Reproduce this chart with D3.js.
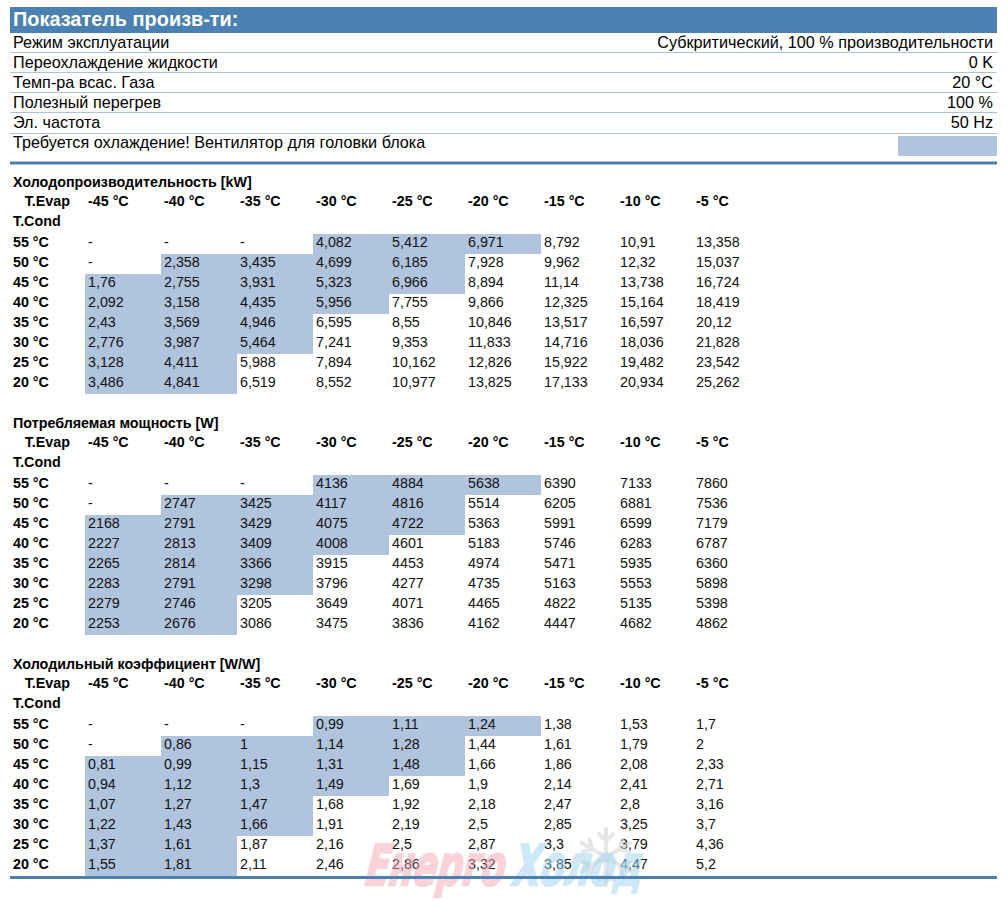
<!DOCTYPE html>
<html>
<head>
<meta charset="utf-8">
<script src="https://cdn.jsdelivr.net/npm/d3@7"></script>
<style>
  body { margin: 0; background: #fff; }
  svg { display: block; font-family: "Liberation Sans", Arial, sans-serif; }
</style>
</head>
<body>
<div id="chart"></div>
<script>
// --- data ---
var headerTitle = "Показатель произв-ти:";
var infoLabels = ["Режим эксплуатации", "Переохлаждение жидкости", "Темп-ра всас. Газа", "Полезный перегрев", "Эл. частота"];
var infoValues = ["Субкритический, 100 % производительности", "0 K", "20 °C", "100 %", "50 Hz"];
var coolingNote = "Требуется охлаждение! Вентилятор для головки блока";

var evapTemps = ["-45 °C", "-40 °C", "-35 °C", "-30 °C", "-25 °C", "-20 °C", "-15 °C", "-10 °C", "-5 °C"];
var condTemps = ["55 °C", "50 °C", "45 °C", "40 °C", "35 °C", "30 °C", "25 °C", "20 °C"];

// shaded evap range per condensing row (first, last column index)
var shadedRange = [[3, 5], [1, 4], [0, 4], [0, 3], [0, 2], [0, 2], [0, 1], [0, 1]];

var capacity = [
  [null, null, null, 4.082, 5.412, 6.971, 8.792, 10.91, 13.358],
  [null, 2.358, 3.435, 4.699, 6.185, 7.928, 9.962, 12.32, 15.037],
  [1.76, 2.755, 3.931, 5.323, 6.966, 8.894, 11.14, 13.738, 16.724],
  [2.092, 3.158, 4.435, 5.956, 7.755, 9.866, 12.325, 15.164, 18.419],
  [2.43, 3.569, 4.946, 6.595, 8.55, 10.846, 13.517, 16.597, 20.12],
  [2.776, 3.987, 5.464, 7.241, 9.353, 11.833, 14.716, 18.036, 21.828],
  [3.128, 4.411, 5.988, 7.894, 10.162, 12.826, 15.922, 19.482, 23.542],
  [3.486, 4.841, 6.519, 8.552, 10.977, 13.825, 17.133, 20.934, 25.262]
];
var power = [
  [null, null, null, 4136, 4884, 5638, 6390, 7133, 7860],
  [null, 2747, 3425, 4117, 4816, 5514, 6205, 6881, 7536],
  [2168, 2791, 3429, 4075, 4722, 5363, 5991, 6599, 7179],
  [2227, 2813, 3409, 4008, 4601, 5183, 5746, 6283, 6787],
  [2265, 2814, 3366, 3915, 4453, 4974, 5471, 5935, 6360],
  [2283, 2791, 3298, 3796, 4277, 4735, 5163, 5553, 5898],
  [2279, 2746, 3205, 3649, 4071, 4465, 4822, 5135, 5398],
  [2253, 2676, 3086, 3475, 3836, 4162, 4447, 4682, 4862]
];
var cop = [
  [null, null, null, 0.99, 1.11, 1.24, 1.38, 1.53, 1.7],
  [null, 0.86, 1, 1.14, 1.28, 1.44, 1.61, 1.79, 2],
  [0.81, 0.99, 1.15, 1.31, 1.48, 1.66, 1.86, 2.08, 2.33],
  [0.94, 1.12, 1.3, 1.49, 1.69, 1.9, 2.14, 2.41, 2.71],
  [1.07, 1.27, 1.47, 1.68, 1.92, 2.18, 2.47, 2.8, 3.16],
  [1.22, 1.43, 1.66, 1.91, 2.19, 2.5, 2.85, 3.25, 3.7],
  [1.37, 1.61, 1.87, 2.16, 2.5, 2.87, 3.3, 3.79, 4.36],
  [1.55, 1.81, 2.11, 2.46, 2.86, 3.32, 3.85, 4.47, 5.2]
];
var tableTitles = ["Холодопроизводительность [kW]", "Потребляемая мощность [W]", "Холодильный коэффициент [W/W]"];
var tableValues = [capacity, power, cop];

// --- layout ---
var width = 1008, height = 901;
var left = 10, right = 997;
var steel = "#4a80b2", shade = "#b0c4de", sepColor = "#aec2da";
var infoFont = "16.2px", cellFont = "14.3px";

var svg = d3.select("#chart").append("svg")
  .attr("width", width)
  .attr("height", height);

/* Header */
svg.append("rect")
  .attr("x", left).attr("y", 7)
  .attr("width", right - left).attr("height", 26)
  .attr("fill", steel);
svg.append("text")
  .attr("x", 13).attr("y", 26)
  .attr("fill", "#fff")
  .style("font-size", "19.9px").style("font-weight", "bold")
  .text(headerTitle);

/* Info rows */
var yInfo = d3.scaleBand()
  .domain(d3.range(infoLabels.length))
  .range([33, 133.5]);

var info = svg.append("g").attr("class", "info");
info.selectAll("line.sep")
  .data(d3.range(infoLabels.length)).enter()
  .append("line")
  .attr("x1", left).attr("x2", right)
  .attr("y1", i => Math.round(yInfo(i) + yInfo.bandwidth()) - 0.5)
  .attr("y2", i => Math.round(yInfo(i) + yInfo.bandwidth()) - 0.5)
  .attr("stroke", sepColor).attr("stroke-width", 1);
info.selectAll("text.lbl")
  .data(infoLabels).enter()
  .append("text")
  .attr("x", 13)
  .attr("y", (d, i) => yInfo(i) + 14.5)
  .style("font-size", infoFont)
  .text(d => d);
info.selectAll("text.val")
  .data(infoValues).enter()
  .append("text")
  .attr("x", 993)
  .attr("y", (d, i) => yInfo(i) + 14.5)
  .attr("text-anchor", "end")
  .style("font-size", infoFont)
  .text(d => d);

info.append("text")
  .attr("x", 13).attr("y", 148)
  .style("font-size", infoFont)
  .text(coolingNote);
info.append("rect")
  .attr("x", 898).attr("y", 136)
  .attr("width", right - 898).attr("height", 20)
  .attr("fill", shade);
svg.append("rect")
  .attr("x", left).attr("y", 161.5)
  .attr("width", right - left).attr("height", 3)
  .attr("fill", steel);

/* Tables */
var xScale = d3.scaleBand()
  .domain(evapTemps)
  .range([85, 85 + 76 * evapTemps.length]);

var yScale = d3.scaleBand()
  .domain(condTemps)
  .range([0, 20 * condTemps.length]);

var tableTop = d3.scaleLinear().domain([0, 2]).range([234, 716]);

function fmt(v) {
  return v === null ? "-" : String(v).replace(".", ",");
}

var cells = [];
tableValues.forEach(function(tbl, t) {
  tbl.forEach(function(row, r) {
    row.forEach(function(v, c) {
      cells.push({ t: t, cond: condTemps[r], evap: evapTemps[c], value: v,
        shaded: c >= shadedRange[r][0] && c <= shadedRange[r][1] });
    });
  });
});

var tables = svg.selectAll("g.table")
  .data(tableTitles).enter()
  .append("g")
  .attr("class", "table")
  .attr("transform", (d, i) => `translate(0, ${tableTop(i)})`);

tables.append("text")
  .attr("x", 13).attr("y", -47.5)
  .style("font-size", cellFont).style("font-weight", "bold")
  .text(d => d);
tables.append("text")
  .attr("x", 70).attr("y", -28)
  .attr("text-anchor", "end")
  .style("font-size", cellFont).style("font-weight", "bold")
  .text("T.Evap");
tables.append("text")
  .attr("x", 13).attr("y", -8)
  .style("font-size", cellFont).style("font-weight", "bold")
  .text("T.Cond");
tables.selectAll("text.evap")
  .data(evapTemps).enter()
  .append("text")
  .attr("x", d => xScale(d) + 3).attr("y", -28)
  .style("font-size", cellFont).style("font-weight", "bold")
  .text(d => d);
tables.selectAll("text.cond")
  .data(condTemps).enter()
  .append("text")
  .attr("x", 13).attr("y", d => yScale(d) + 13)
  .style("font-size", cellFont).style("font-weight", "bold")
  .text(d => d);

tables.selectAll("rect.cell")
  .data((d, i) => cells.filter(c => c.t === i && c.shaded)).enter()
  .append("rect")
  .attr("x", d => xScale(d.evap))
  .attr("y", d => yScale(d.cond))
  .attr("width", xScale.bandwidth())
  .attr("height", yScale.bandwidth())
  .attr("fill", shade);

/* watermark */
var wm = svg.append("g")
  .attr("transform", "translate(0, 885)")
  .style("font-family", "'DejaVu Sans', sans-serif")
  .style("font-weight", "bold");

// faint snowflake behind the logo
var flake = wm.append("g")
  .attr("transform", "translate(606, -28)")
  .attr("stroke", "#d6d6d6").attr("stroke-width", 4)
  .attr("stroke-linecap", "round").attr("opacity", 0.6);
[0, 60, 120].forEach(function(a) {
  var g = flake.append("g").attr("transform", `rotate(${a})`);
  g.append("line").attr("x1", 0).attr("y1", -28).attr("x2", 0).attr("y2", 28);
  [-1, 1].forEach(function(s) {
    g.append("line").attr("x1", 0).attr("y1", s * 16).attr("x2", -7).attr("y2", s * 23);
    g.append("line").attr("x1", 0).attr("y1", s * 16).attr("x2", 7).attr("y2", s * 23);
  });
});

wm.append("text")
  .attr("transform", "skewX(-14)")
  .attr("x", 362).attr("y", 0)
  .attr("textLength", 140).attr("lengthAdjust", "spacingAndGlyphs")
  .attr("fill", "#f4a9b4").attr("stroke", "#f4a9b4").attr("stroke-width", 2.5)
  .attr("opacity", 0.5)
  .style("font-size", "56px")
  .text("Енерго");
wm.append("text")
  .attr("transform", "skewX(-14)")
  .attr("x", 510).attr("y", 0)
  .attr("textLength", 130).attr("lengthAdjust", "spacingAndGlyphs")
  .attr("fill", "#9dd5f3").attr("stroke", "#9dd5f3").attr("stroke-width", 2.5)
  .attr("opacity", 0.5)
  .style("font-size", "56px")
  .text("Холод");

tables.selectAll("text.val")
  .data((d, i) => cells.filter(c => c.t === i)).enter()
  .append("text")
  .attr("x", d => xScale(d.evap) + 3)
  .attr("y", d => yScale(d.cond) + 13)
  .attr("fill", "#111")
  .style("font-size", cellFont)
  .text(d => fmt(d.value));

svg.append("rect")
  .attr("x", left).attr("y", 876)
  .attr("width", right - left).attr("height", 3)
  .attr("fill", steel);
</script>
</body>
</html>
